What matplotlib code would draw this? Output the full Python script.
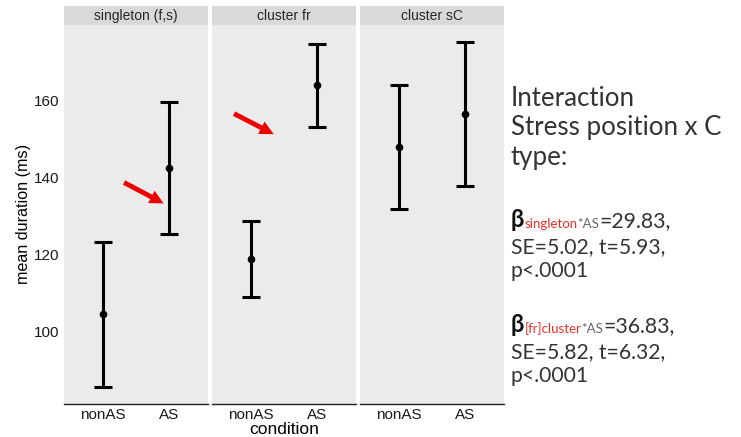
import numpy as np
import matplotlib
matplotlib.use("Agg")
import matplotlib.pyplot as plt

# values
panels = ["singleton (f,s)", "cluster fr", "cluster sC"]
conditions = ["nonAS", "AS"]
means = [[104.5, 142.6], [118.9, 164.0], [148.0, 156.5]]
lower = [[85.6, 125.5], [109.1, 153.3], [132.0, 137.8]]
upper = [[123.4, 159.7], [128.8, 174.7], [164.0, 175.3]]
yticks = [100, 120, 140, 160]

# red arrows (panel index, tail x, tail y, head x, head y)
arrows = [(0, 1.28, 139.1, 1.96, 133.0),
          (1, 0.70, 157.0, 1.38, 151.0)]

plt.rcParams['font.family'] = ['Liberation Sans', 'DejaVu Sans']

fig = plt.figure(figsize=(7.41, 4.37), dpi=100)
W, H = 741, 437

panel_x = [64, 212, 360]
panel_w = 144
top, bottom = 25, 404
strip_h = 19

axes = []
for i, name in enumerate(panels):
    ax = fig.add_axes([panel_x[i] / W, 1 - bottom / H, panel_w / W, (bottom - top) / H])
    ax.set_facecolor("#EBEBEB")
    x = np.arange(1, 3)
    m = np.array(means[i])
    lo = np.array(lower[i])
    hi = np.array(upper[i])
    ax.errorbar(x, m, yerr=[m - lo, hi - m], fmt="o", color="black",
                ms=4.5, elinewidth=2.2, capsize=6.5, capthick=2.2)
    ax.set_xlim(0.4, 2.6)
    ax.set_ylim(81.2, 179.7)
    ax.set_xticks(x)
    ax.set_xticklabels(conditions, fontsize=11, color="#1a1a1a")
    ax.set_yticks(yticks)
    if i == 0:
        ax.set_yticklabels([str(t) for t in yticks], fontsize=11, color="#1a1a1a")
    else:
        ax.set_yticklabels([])
    ax.tick_params(length=0, pad=3)
    for s in ["top", "right", "left"]:
        ax.spines[s].set_visible(False)
    ax.spines["bottom"].set_linewidth(1.0)
    ax.spines["bottom"].set_color("#222222")

    # facet strip
    sax = fig.add_axes([panel_x[i] / W, 1 - (top) / H, panel_w / W, strip_h / H])
    sax.set_facecolor("#D9D9D9")
    sax.set_xticks([])
    sax.set_yticks([])
    for s in sax.spines.values():
        s.set_visible(False)
    sax.text(0.5, 0.45, name, ha="center", va="center", fontsize=10,
             color="#262626", transform=sax.transAxes)
    axes.append(ax)

for p, x0, y0, x1, y1 in arrows:
    axes[p].annotate("", xy=(x1, y1), xytext=(x0, y0),
                     arrowprops=dict(arrowstyle="simple,head_length=1.0,head_width=1.0,tail_width=0.35",
                                     color="#EE0000", lw=0))

fig.text(24 / W, 1 - 214 / H, "mean duration (ms)", rotation=90, ha="center",
         va="center", fontsize=11.6)
fig.text(284 / W, 1 - 430 / H, "condition", ha="center", va="center", fontsize=12.5)

# right-hand annotation text
FAM = ["Lato", "DejaVu Sans"]
DARK = "#333333"
head_lines = ["Interaction", "Stress position x C", "type:"]
for k, line in enumerate(head_lines):
    fig.text(511 / W, 1 - (106 + 29.5 * k) / H, line, ha="left", va="baseline",
             fontsize=18.6, color=DARK, family=FAM)

renderer = fig.canvas.get_renderer()


def run_text(x, y, pieces):
    # draw pieces one after another on the same baseline
    for txt, size, color, weight, dy in pieces:
        t = fig.text(x / W, 1 - (y + dy) / H, txt, ha="left", va="baseline",
                     fontsize=size, color=color, weight=weight, family=FAM)
        bb = t.get_window_extent(renderer)
        x += bb.width


blocks = [("singleton", "=29.83,", "SE=5.02, t=5.93,", 227),
          ("[fr]cluster", "=36.83,", "SE=5.82, t=6.32,", 332)]
for sub, val, se, yb in blocks:
    run_text(511, yb, [("β", 17, "#111111", "bold", 0),
                       (sub, 9.5, "#E8302A", "normal", 1),
                       ("*AS", 9.5, "#666666", "normal", 1),
                       (val, 15.3, DARK, "normal", 0)])
    fig.text(511 / W, 1 - (yb + 26) / H, se, ha="left", va="baseline",
             fontsize=15.2, color=DARK, family=FAM)
    fig.text(511 / W, 1 - (yb + 50) / H, "p<.0001", ha="left", va="baseline",
             fontsize=15.2, color=DARK, family=FAM)

fig.savefig("out.png", dpi=100)
